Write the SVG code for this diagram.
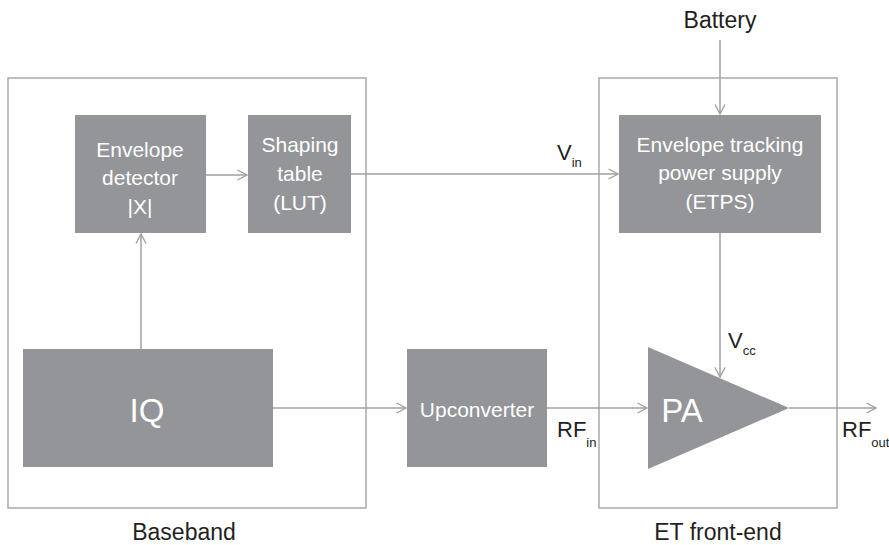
<svg xmlns="http://www.w3.org/2000/svg" width="889" height="545" viewBox="0 0 889 545">
<defs>
<marker id="arr" markerUnits="userSpaceOnUse" markerWidth="14" markerHeight="14" refX="11" refY="7" orient="auto">
<path d="M1.5,2 L11,7 L1.5,12" fill="none" stroke="#a0a0a0" stroke-width="1.4"/>
</marker>
</defs>
<style>
text{font-family:"Liberation Sans",Arial,sans-serif}
.frame{fill:none;stroke:#a7a9ac;stroke-width:1.5}
.blk{fill:#939598}
.wt{fill:#ffffff;font-size:21px;text-anchor:middle}
.big{fill:#ffffff;font-size:33px;text-anchor:middle}
.lbl{fill:#231f20;font-size:23px;text-anchor:middle}
.sym{fill:#231f20;font-size:22px}
.sub{font-size:13px}
.con{fill:none;stroke:#a0a0a0;stroke-width:1.5}
</style>
<rect width="889" height="545" fill="#ffffff"/>
<g id="baseband">
<rect class="frame" x="8" y="78" width="358" height="430"/>
<text class="lbl" x="184" y="540">Baseband</text>
</g>
<g id="etfrontend">
<rect class="frame" x="599" y="78" width="238" height="430"/>
<text class="lbl" x="718" y="540">ET front-end</text>
</g>
<g id="envdet">
<rect class="blk" x="75" y="115" width="131" height="118"/>
<text class="wt" x="140" y="157">Envelope</text>
<text class="wt" x="140" y="185">detector</text>
<text class="wt" x="140" y="214">|X|</text>
</g>
<g id="shaping">
<rect class="blk" x="248" y="115" width="103" height="118"/>
<text class="wt" x="300" y="152">Shaping</text>
<text class="wt" x="300" y="181">table</text>
<text class="wt" x="300" y="210">(LUT)</text>
</g>
<g id="etps">
<rect class="blk" x="619" y="115" width="202" height="118"/>
<text class="wt" x="720" y="152">Envelope tracking</text>
<text class="wt" x="720" y="180">power supply</text>
<text class="wt" x="720" y="209">(ETPS)</text>
</g>
<g id="iq">
<rect class="blk" x="23" y="349" width="250" height="118"/>
<text class="big" x="147" y="422">IQ</text>
</g>
<g id="upconv">
<rect class="blk" x="407" y="349" width="140" height="118"/>
<text class="wt" x="477" y="417">Upconverter</text>
</g>
<g id="pa">
<polygon class="blk" points="648,347 789,408 648,469"/>
<text class="big" x="682" y="422">PA</text>
</g>
<g id="battery">
<text class="lbl" x="720" y="28">Battery</text>
</g>
<g id="connectors">
<line class="con" x1="141" y1="349" x2="141" y2="234" marker-end="url(#arr)"/>
<line class="con" x1="206" y1="175" x2="247" y2="175" marker-end="url(#arr)"/>
<line class="con" x1="351" y1="174" x2="618" y2="174" marker-end="url(#arr)"/>
<line class="con" x1="720" y1="40" x2="720" y2="114" marker-end="url(#arr)"/>
<line class="con" x1="720" y1="233" x2="720" y2="377" marker-end="url(#arr)"/>
<line class="con" x1="273" y1="408" x2="406" y2="408" marker-end="url(#arr)"/>
<line class="con" x1="547" y1="408" x2="647" y2="408" marker-end="url(#arr)"/>
<line class="con" x1="789" y1="408" x2="876" y2="408" marker-end="url(#arr)"/>
</g>
<g id="labels">
<text class="sym" x="557" y="160">V<tspan class="sub" dy="7">in</tspan></text>
<text class="sym" x="728" y="348">V<tspan class="sub" dy="7">cc</tspan></text>
<text class="sym" x="557" y="437">RF<tspan class="sub" dy="10">in</tspan></text>
<text class="sym" x="842" y="437">RF<tspan class="sub" dy="10">out</tspan></text>
</g>
</svg>
